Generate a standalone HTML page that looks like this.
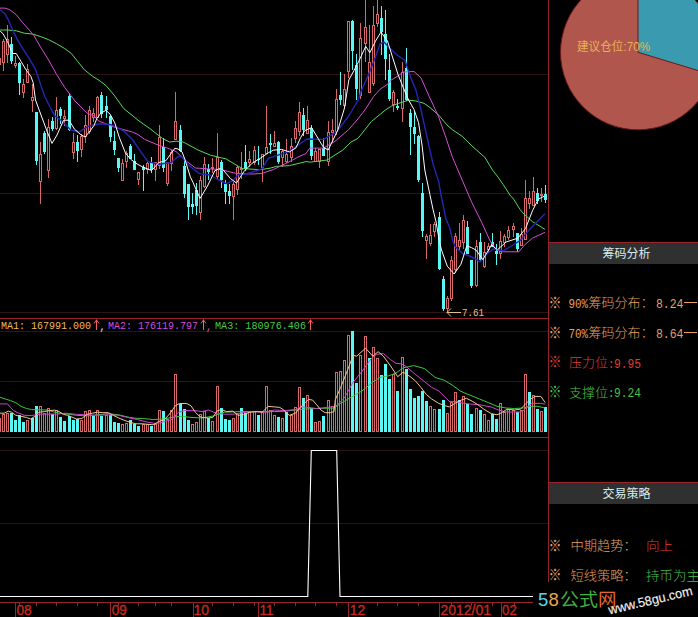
<!DOCTYPE html>
<html><head><meta charset="utf-8"><title>chart</title>
<style>html,body{margin:0;padding:0;background:#000;}body{width:698px;height:617px;overflow:hidden;position:relative;}</style>
</head><body>
<svg width="698" height="617" viewBox="0 0 698 617" style="position:absolute;left:0;top:0"><rect x="0" y="0" width="698" height="617" fill="#000"/><g shape-rendering="crispEdges"><rect x="0" y="74" width="548" height="1" fill="#2e1414"/><rect x="0" y="193" width="548" height="1" fill="#2e1414"/><rect x="0" y="312" width="548" height="1" fill="#2e1414"/><rect x="0" y="331" width="548" height="1" fill="#2e1414"/><rect x="0" y="381" width="548" height="1" fill="#2e1414"/><rect x="0" y="450" width="548" height="1" fill="#2e1414"/><rect x="0" y="523" width="548" height="1" fill="#2e1414"/></g><g shape-rendering="crispEdges"><rect x="-1" y="56" width="1" height="2" fill="#d86868"/><rect x="-1" y="65" width="1" height="1" fill="#d86868"/><rect x="-1.5" y="58.5" width="2" height="6" fill="#000" stroke="#d86868" stroke-width="1"/><rect x="3" y="39" width="1" height="2" fill="#d86868"/><rect x="3" y="63" width="1" height="8" fill="#d86868"/><rect x="2.5" y="41.5" width="2" height="21" fill="#000" stroke="#d86868" stroke-width="1"/><rect x="7" y="25" width="1" height="14" fill="#d86868"/><rect x="7" y="55" width="1" height="8" fill="#d86868"/><rect x="6.5" y="39.5" width="2" height="15" fill="#000" stroke="#d86868" stroke-width="1"/><rect x="11" y="37" width="1" height="27" fill="#5af8f4"/><rect x="10" y="44" width="3" height="17" fill="#5af8f4"/><rect x="15" y="56" width="1" height="7" fill="#d86868"/><rect x="15" y="66" width="1" height="2" fill="#d86868"/><rect x="14.5" y="63.5" width="2" height="2" fill="#000" stroke="#d86868" stroke-width="1"/><rect x="19" y="62" width="1" height="33" fill="#5af8f4"/><rect x="18" y="63" width="3" height="20" fill="#5af8f4"/><rect x="23" y="79" width="1" height="5" fill="#d86868"/><rect x="23" y="93" width="1" height="5" fill="#d86868"/><rect x="22.5" y="84.5" width="2" height="8" fill="#000" stroke="#d86868" stroke-width="1"/><rect x="27" y="64" width="1" height="5" fill="#d86868"/><rect x="26.5" y="69.5" width="2" height="13" fill="#000" stroke="#d86868" stroke-width="1"/><rect x="32" y="84" width="1" height="13" fill="#d86868"/><rect x="32" y="101" width="1" height="11" fill="#d86868"/><rect x="31.5" y="97.5" width="2" height="3" fill="#000" stroke="#d86868" stroke-width="1"/><rect x="36" y="112" width="1" height="53" fill="#5af8f4"/><rect x="35" y="112" width="3" height="49" fill="#5af8f4"/><rect x="40" y="142" width="1" height="12" fill="#d86868"/><rect x="40" y="182" width="1" height="22" fill="#d86868"/><rect x="39.5" y="154.5" width="2" height="27" fill="#000" stroke="#d86868" stroke-width="1"/><rect x="44" y="131" width="1" height="23" fill="#5af8f4"/><rect x="43" y="133" width="3" height="19" fill="#5af8f4"/><rect x="48" y="119" width="1" height="8" fill="#d86868"/><rect x="48" y="171" width="1" height="7" fill="#d86868"/><rect x="47.5" y="127.5" width="2" height="43" fill="#000" stroke="#d86868" stroke-width="1"/><rect x="52" y="117" width="1" height="14" fill="#5af8f4"/><rect x="51" y="121" width="3" height="8" fill="#5af8f4"/><rect x="56" y="97" width="1" height="13" fill="#d86868"/><rect x="56" y="129" width="1" height="1" fill="#d86868"/><rect x="55.5" y="110.5" width="2" height="18" fill="#000" stroke="#d86868" stroke-width="1"/><rect x="60" y="107" width="1" height="17" fill="#5af8f4"/><rect x="59" y="109" width="3" height="7" fill="#5af8f4"/><rect x="64" y="110" width="1" height="6" fill="#d86868"/><rect x="64" y="119" width="1" height="7" fill="#d86868"/><rect x="63.5" y="116.5" width="2" height="2" fill="#000" stroke="#d86868" stroke-width="1"/><rect x="69" y="93" width="1" height="38" fill="#5af8f4"/><rect x="68" y="96" width="3" height="34" fill="#5af8f4"/><rect x="73" y="133" width="1" height="9" fill="#d86868"/><rect x="73" y="153" width="1" height="6" fill="#d86868"/><rect x="72.5" y="142.5" width="2" height="10" fill="#000" stroke="#d86868" stroke-width="1"/><rect x="77" y="135" width="1" height="27" fill="#5af8f4"/><rect x="76" y="142" width="3" height="9" fill="#5af8f4"/><rect x="81" y="134" width="1" height="2" fill="#d86868"/><rect x="81" y="150" width="1" height="7" fill="#d86868"/><rect x="80.5" y="136.5" width="2" height="13" fill="#000" stroke="#d86868" stroke-width="1"/><rect x="85" y="115" width="1" height="10" fill="#d86868"/><rect x="85" y="137" width="1" height="6" fill="#d86868"/><rect x="84.5" y="125.5" width="2" height="11" fill="#000" stroke="#d86868" stroke-width="1"/><rect x="89" y="106" width="1" height="4" fill="#d86868"/><rect x="89" y="132" width="1" height="2" fill="#d86868"/><rect x="88.5" y="110.5" width="2" height="21" fill="#000" stroke="#d86868" stroke-width="1"/><rect x="93" y="108" width="1" height="5" fill="#d86868"/><rect x="93" y="118" width="1" height="4" fill="#d86868"/><rect x="92.5" y="113.5" width="2" height="4" fill="#000" stroke="#d86868" stroke-width="1"/><rect x="97" y="96" width="1" height="1" fill="#d86868"/><rect x="96.5" y="97.5" width="2" height="20" fill="#000" stroke="#d86868" stroke-width="1"/><rect x="101" y="92" width="1" height="26" fill="#5af8f4"/><rect x="100" y="95" width="3" height="19" fill="#5af8f4"/><rect x="106" y="96" width="1" height="22" fill="#5af8f4"/><rect x="105" y="106" width="3" height="4" fill="#5af8f4"/><rect x="110" y="115" width="1" height="27" fill="#5af8f4"/><rect x="109" y="116" width="3" height="21" fill="#5af8f4"/><rect x="114" y="131" width="1" height="24" fill="#5af8f4"/><rect x="113" y="141" width="3" height="9" fill="#5af8f4"/><rect x="118" y="158" width="1" height="14" fill="#5af8f4"/><rect x="117" y="158" width="3" height="10" fill="#5af8f4"/><rect x="122" y="159" width="1" height="4" fill="#d86868"/><rect x="121.5" y="163.5" width="2" height="17" fill="#000" stroke="#d86868" stroke-width="1"/><rect x="126" y="151" width="1" height="2" fill="#d86868"/><rect x="126" y="162" width="1" height="6" fill="#d86868"/><rect x="125.5" y="153.5" width="2" height="8" fill="#000" stroke="#d86868" stroke-width="1"/><rect x="130" y="144" width="1" height="15" fill="#5af8f4"/><rect x="129" y="146" width="3" height="13" fill="#5af8f4"/><rect x="134" y="154" width="1" height="16" fill="#5af8f4"/><rect x="133" y="161" width="3" height="9" fill="#5af8f4"/><rect x="138" y="180" width="1" height="5" fill="#d86868"/><rect x="137.5" y="172.5" width="2" height="7" fill="#000" stroke="#d86868" stroke-width="1"/><rect x="143" y="165" width="1" height="26" fill="#5af8f4"/><rect x="142" y="167" width="3" height="3" fill="#5af8f4"/><rect x="147" y="162" width="1" height="1" fill="#d86868"/><rect x="147" y="170" width="1" height="4" fill="#d86868"/><rect x="146.5" y="163.5" width="2" height="6" fill="#000" stroke="#d86868" stroke-width="1"/><rect x="151" y="157" width="1" height="16" fill="#5af8f4"/><rect x="150" y="163" width="3" height="7" fill="#5af8f4"/><rect x="155" y="170" width="1" height="11" fill="#d86868"/><rect x="154.5" y="162.5" width="2" height="7" fill="#000" stroke="#d86868" stroke-width="1"/><rect x="159" y="125" width="1" height="12" fill="#d86868"/><rect x="159" y="166" width="1" height="3" fill="#d86868"/><rect x="158.5" y="137.5" width="2" height="28" fill="#000" stroke="#d86868" stroke-width="1"/><rect x="163" y="138" width="1" height="34" fill="#5af8f4"/><rect x="162" y="147" width="3" height="21" fill="#5af8f4"/><rect x="167" y="184" width="1" height="2" fill="#d86868"/><rect x="166.5" y="162.5" width="2" height="21" fill="#000" stroke="#d86868" stroke-width="1"/><rect x="171" y="150" width="1" height="2" fill="#d86868"/><rect x="171" y="164" width="1" height="7" fill="#d86868"/><rect x="170.5" y="152.5" width="2" height="11" fill="#000" stroke="#d86868" stroke-width="1"/><rect x="175" y="92" width="1" height="29" fill="#d86868"/><rect x="174.5" y="121.5" width="2" height="18" fill="#000" stroke="#d86868" stroke-width="1"/><rect x="180" y="125" width="1" height="27" fill="#5af8f4"/><rect x="179" y="130" width="3" height="21" fill="#5af8f4"/><rect x="184" y="159" width="1" height="39" fill="#5af8f4"/><rect x="183" y="166" width="3" height="28" fill="#5af8f4"/><rect x="188" y="184" width="1" height="36" fill="#5af8f4"/><rect x="187" y="184" width="3" height="23" fill="#5af8f4"/><rect x="192" y="193" width="1" height="21" fill="#5af8f4"/><rect x="191" y="204" width="3" height="3" fill="#5af8f4"/><rect x="196" y="183" width="1" height="32" fill="#5af8f4"/><rect x="195" y="190" width="3" height="16" fill="#5af8f4"/><rect x="200" y="176" width="1" height="4" fill="#d86868"/><rect x="200" y="213" width="1" height="7" fill="#d86868"/><rect x="199.5" y="180.5" width="2" height="32" fill="#000" stroke="#d86868" stroke-width="1"/><rect x="204" y="157" width="1" height="7" fill="#d86868"/><rect x="204" y="187" width="1" height="1" fill="#d86868"/><rect x="203.5" y="164.5" width="2" height="22" fill="#000" stroke="#d86868" stroke-width="1"/><rect x="208" y="164" width="1" height="16" fill="#5af8f4"/><rect x="207" y="169" width="3" height="3" fill="#5af8f4"/><rect x="212" y="158" width="1" height="9" fill="#d86868"/><rect x="212" y="169" width="1" height="4" fill="#d86868"/><rect x="211" y="167" width="3" height="2" fill="#d86868"/><rect x="217" y="133" width="1" height="24" fill="#d86868"/><rect x="217" y="177" width="1" height="2" fill="#d86868"/><rect x="216.5" y="157.5" width="2" height="19" fill="#000" stroke="#d86868" stroke-width="1"/><rect x="221" y="160" width="1" height="28" fill="#5af8f4"/><rect x="220" y="162" width="3" height="18" fill="#5af8f4"/><rect x="225" y="180" width="1" height="24" fill="#5af8f4"/><rect x="224" y="184" width="3" height="8" fill="#5af8f4"/><rect x="229" y="184" width="1" height="20" fill="#5af8f4"/><rect x="228" y="191" width="3" height="5" fill="#5af8f4"/><rect x="233" y="182" width="1" height="2" fill="#d86868"/><rect x="233" y="197" width="1" height="23" fill="#d86868"/><rect x="232.5" y="184.5" width="2" height="12" fill="#000" stroke="#d86868" stroke-width="1"/><rect x="237" y="166" width="1" height="1" fill="#d86868"/><rect x="237" y="190" width="1" height="5" fill="#d86868"/><rect x="236.5" y="167.5" width="2" height="22" fill="#000" stroke="#d86868" stroke-width="1"/><rect x="241" y="152" width="1" height="16" fill="#d86868"/><rect x="241" y="170" width="1" height="9" fill="#d86868"/><rect x="240" y="168" width="3" height="2" fill="#d86868"/><rect x="245" y="145" width="1" height="26" fill="#5af8f4"/><rect x="244" y="162" width="3" height="7" fill="#5af8f4"/><rect x="249" y="151" width="1" height="8" fill="#d86868"/><rect x="249" y="163" width="1" height="4" fill="#d86868"/><rect x="248.5" y="159.5" width="2" height="3" fill="#000" stroke="#d86868" stroke-width="1"/><rect x="254" y="146" width="1" height="4" fill="#d86868"/><rect x="254" y="163" width="1" height="2" fill="#d86868"/><rect x="253.5" y="150.5" width="2" height="12" fill="#000" stroke="#d86868" stroke-width="1"/><rect x="258" y="146" width="1" height="19" fill="#5af8f4"/><rect x="257" y="159" width="3" height="1" fill="#5af8f4"/><rect x="262" y="168" width="1" height="14" fill="#d86868"/><rect x="261.5" y="154.5" width="2" height="13" fill="#000" stroke="#d86868" stroke-width="1"/><rect x="266" y="106" width="1" height="41" fill="#d86868"/><rect x="265.5" y="147.5" width="2" height="6" fill="#000" stroke="#d86868" stroke-width="1"/><rect x="270" y="134" width="1" height="20" fill="#5af8f4"/><rect x="269" y="143" width="3" height="2" fill="#5af8f4"/><rect x="274" y="131" width="1" height="12" fill="#d86868"/><rect x="273.5" y="143.5" width="2" height="3" fill="#000" stroke="#d86868" stroke-width="1"/><rect x="278" y="141" width="1" height="23" fill="#5af8f4"/><rect x="277" y="142" width="3" height="20" fill="#5af8f4"/><rect x="282" y="149" width="1" height="2" fill="#d86868"/><rect x="282" y="158" width="1" height="9" fill="#d86868"/><rect x="281.5" y="151.5" width="2" height="6" fill="#000" stroke="#d86868" stroke-width="1"/><rect x="286" y="139" width="1" height="15" fill="#d86868"/><rect x="286" y="162" width="1" height="1" fill="#d86868"/><rect x="285.5" y="154.5" width="2" height="7" fill="#000" stroke="#d86868" stroke-width="1"/><rect x="291" y="138" width="1" height="8" fill="#d86868"/><rect x="291" y="158" width="1" height="4" fill="#d86868"/><rect x="290.5" y="146.5" width="2" height="11" fill="#000" stroke="#d86868" stroke-width="1"/><rect x="295" y="121" width="1" height="7" fill="#d86868"/><rect x="295" y="139" width="1" height="4" fill="#d86868"/><rect x="294.5" y="128.5" width="2" height="10" fill="#000" stroke="#d86868" stroke-width="1"/><rect x="299" y="102" width="1" height="10" fill="#d86868"/><rect x="299" y="132" width="1" height="4" fill="#d86868"/><rect x="298.5" y="112.5" width="2" height="19" fill="#000" stroke="#d86868" stroke-width="1"/><rect x="303" y="108" width="1" height="28" fill="#5af8f4"/><rect x="302" y="115" width="3" height="15" fill="#5af8f4"/><rect x="307" y="106" width="1" height="14" fill="#d86868"/><rect x="306.5" y="120.5" width="2" height="13" fill="#000" stroke="#d86868" stroke-width="1"/><rect x="311" y="125" width="1" height="35" fill="#5af8f4"/><rect x="310" y="128" width="3" height="28" fill="#5af8f4"/><rect x="315" y="148" width="1" height="3" fill="#d86868"/><rect x="314.5" y="151.5" width="2" height="10" fill="#000" stroke="#d86868" stroke-width="1"/><rect x="319" y="162" width="1" height="6" fill="#d86868"/><rect x="318.5" y="149.5" width="2" height="12" fill="#000" stroke="#d86868" stroke-width="1"/><rect x="323" y="138" width="1" height="18" fill="#5af8f4"/><rect x="322" y="148" width="3" height="8" fill="#5af8f4"/><rect x="328" y="121" width="1" height="11" fill="#d86868"/><rect x="328" y="162" width="1" height="4" fill="#d86868"/><rect x="327.5" y="132.5" width="2" height="29" fill="#000" stroke="#d86868" stroke-width="1"/><rect x="332" y="119" width="1" height="11" fill="#d86868"/><rect x="332" y="133" width="1" height="10" fill="#d86868"/><rect x="331.5" y="130.5" width="2" height="2" fill="#000" stroke="#d86868" stroke-width="1"/><rect x="336" y="89" width="1" height="10" fill="#d86868"/><rect x="336" y="132" width="1" height="3" fill="#d86868"/><rect x="335.5" y="99.5" width="2" height="32" fill="#000" stroke="#d86868" stroke-width="1"/><rect x="340" y="72" width="1" height="33" fill="#5af8f4"/><rect x="339" y="95" width="3" height="5" fill="#5af8f4"/><rect x="344" y="74" width="1" height="15" fill="#d86868"/><rect x="344" y="106" width="1" height="1" fill="#d86868"/><rect x="343.5" y="89.5" width="2" height="16" fill="#000" stroke="#d86868" stroke-width="1"/><rect x="348" y="72" width="1" height="6" fill="#d86868"/><rect x="347.5" y="21.5" width="2" height="50" fill="#000" stroke="#d86868" stroke-width="1"/><rect x="352" y="20" width="1" height="50" fill="#5af8f4"/><rect x="351" y="21" width="3" height="30" fill="#5af8f4"/><rect x="356" y="54" width="1" height="46" fill="#5af8f4"/><rect x="355" y="65" width="3" height="24" fill="#5af8f4"/><rect x="360" y="23" width="1" height="15" fill="#d86868"/><rect x="360" y="96" width="1" height="3" fill="#d86868"/><rect x="359.5" y="38.5" width="2" height="57" fill="#000" stroke="#d86868" stroke-width="1"/><rect x="365" y="0" width="1" height="27" fill="#d86868"/><rect x="365" y="44" width="1" height="18" fill="#d86868"/><rect x="364.5" y="27.5" width="2" height="16" fill="#000" stroke="#d86868" stroke-width="1"/><rect x="369" y="25" width="1" height="37" fill="#d86868"/><rect x="368.5" y="62.5" width="2" height="30" fill="#000" stroke="#d86868" stroke-width="1"/><rect x="373" y="6" width="1" height="19" fill="#d86868"/><rect x="373" y="84" width="1" height="2" fill="#d86868"/><rect x="372.5" y="25.5" width="2" height="58" fill="#000" stroke="#d86868" stroke-width="1"/><rect x="377" y="0" width="1" height="14" fill="#d86868"/><rect x="377" y="24" width="1" height="3" fill="#d86868"/><rect x="376.5" y="14.5" width="2" height="9" fill="#000" stroke="#d86868" stroke-width="1"/><rect x="381" y="6" width="1" height="49" fill="#5af8f4"/><rect x="380" y="18" width="3" height="14" fill="#5af8f4"/><rect x="385" y="10" width="1" height="70" fill="#5af8f4"/><rect x="384" y="34" width="3" height="25" fill="#5af8f4"/><rect x="389" y="54" width="1" height="47" fill="#5af8f4"/><rect x="388" y="70" width="3" height="29" fill="#5af8f4"/><rect x="393" y="90" width="1" height="2" fill="#d86868"/><rect x="393" y="105" width="1" height="7" fill="#d86868"/><rect x="392.5" y="92.5" width="2" height="12" fill="#000" stroke="#d86868" stroke-width="1"/><rect x="397" y="99" width="1" height="11" fill="#5af8f4"/><rect x="396" y="106" width="3" height="2" fill="#5af8f4"/><rect x="402" y="62" width="1" height="10" fill="#d86868"/><rect x="402" y="109" width="1" height="13" fill="#d86868"/><rect x="401.5" y="72.5" width="2" height="36" fill="#000" stroke="#d86868" stroke-width="1"/><rect x="406" y="48" width="1" height="53" fill="#5af8f4"/><rect x="405" y="68" width="3" height="32" fill="#5af8f4"/><rect x="410" y="109" width="1" height="46" fill="#5af8f4"/><rect x="409" y="113" width="3" height="14" fill="#5af8f4"/><rect x="414" y="111" width="1" height="33" fill="#5af8f4"/><rect x="413" y="127" width="3" height="7" fill="#5af8f4"/><rect x="418" y="135" width="1" height="47" fill="#5af8f4"/><rect x="417" y="136" width="3" height="44" fill="#5af8f4"/><rect x="422" y="183" width="1" height="54" fill="#5af8f4"/><rect x="421" y="193" width="3" height="38" fill="#5af8f4"/><rect x="426" y="234" width="1" height="2" fill="#d86868"/><rect x="426" y="241" width="1" height="18" fill="#d86868"/><rect x="425.5" y="236.5" width="2" height="4" fill="#000" stroke="#d86868" stroke-width="1"/><rect x="430" y="224" width="1" height="11" fill="#d86868"/><rect x="430" y="244" width="1" height="2" fill="#d86868"/><rect x="429.5" y="235.5" width="2" height="8" fill="#000" stroke="#d86868" stroke-width="1"/><rect x="434" y="222" width="1" height="2" fill="#d86868"/><rect x="434" y="232" width="1" height="5" fill="#d86868"/><rect x="433.5" y="224.5" width="2" height="7" fill="#000" stroke="#d86868" stroke-width="1"/><rect x="439" y="212" width="1" height="58" fill="#5af8f4"/><rect x="438" y="217" width="3" height="52" fill="#5af8f4"/><rect x="443" y="276" width="1" height="35" fill="#5af8f4"/><rect x="442" y="279" width="3" height="30" fill="#5af8f4"/><rect x="447" y="296" width="1" height="2" fill="#d86868"/><rect x="447" y="309" width="1" height="4" fill="#d86868"/><rect x="446.5" y="298.5" width="2" height="10" fill="#000" stroke="#d86868" stroke-width="1"/><rect x="451" y="256" width="1" height="4" fill="#d86868"/><rect x="451" y="299" width="1" height="2" fill="#d86868"/><rect x="450.5" y="260.5" width="2" height="38" fill="#000" stroke="#d86868" stroke-width="1"/><rect x="455" y="233" width="1" height="3" fill="#d86868"/><rect x="455" y="270" width="1" height="3" fill="#d86868"/><rect x="454.5" y="236.5" width="2" height="33" fill="#000" stroke="#d86868" stroke-width="1"/><rect x="459" y="223" width="1" height="17" fill="#d86868"/><rect x="459" y="247" width="1" height="3" fill="#d86868"/><rect x="458.5" y="240.5" width="2" height="6" fill="#000" stroke="#d86868" stroke-width="1"/><rect x="463" y="215" width="1" height="5" fill="#d86868"/><rect x="463" y="243" width="1" height="6" fill="#d86868"/><rect x="462.5" y="220.5" width="2" height="22" fill="#000" stroke="#d86868" stroke-width="1"/><rect x="467" y="221" width="1" height="33" fill="#5af8f4"/><rect x="466" y="227" width="3" height="27" fill="#5af8f4"/><rect x="471" y="260" width="1" height="28" fill="#5af8f4"/><rect x="470" y="260" width="3" height="26" fill="#5af8f4"/><rect x="476" y="240" width="1" height="6" fill="#d86868"/><rect x="476" y="286" width="1" height="1" fill="#d86868"/><rect x="475.5" y="246.5" width="2" height="39" fill="#000" stroke="#d86868" stroke-width="1"/><rect x="480" y="233" width="1" height="29" fill="#5af8f4"/><rect x="479" y="242" width="3" height="18" fill="#5af8f4"/><rect x="484" y="242" width="1" height="10" fill="#d86868"/><rect x="484" y="267" width="1" height="1" fill="#d86868"/><rect x="483.5" y="252.5" width="2" height="14" fill="#000" stroke="#d86868" stroke-width="1"/><rect x="488" y="243" width="1" height="3" fill="#d86868"/><rect x="488" y="250" width="1" height="2" fill="#d86868"/><rect x="487.5" y="246.5" width="2" height="3" fill="#000" stroke="#d86868" stroke-width="1"/><rect x="492" y="233" width="1" height="14" fill="#5af8f4"/><rect x="491" y="242" width="3" height="5" fill="#5af8f4"/><rect x="496" y="244" width="1" height="21" fill="#5af8f4"/><rect x="495" y="251" width="3" height="3" fill="#5af8f4"/><rect x="500" y="231" width="1" height="10" fill="#d86868"/><rect x="500" y="254" width="1" height="5" fill="#d86868"/><rect x="499.5" y="241.5" width="2" height="12" fill="#000" stroke="#d86868" stroke-width="1"/><rect x="504" y="234" width="1" height="2" fill="#d86868"/><rect x="504" y="243" width="1" height="4" fill="#d86868"/><rect x="503.5" y="236.5" width="2" height="6" fill="#000" stroke="#d86868" stroke-width="1"/><rect x="508" y="226" width="1" height="4" fill="#d86868"/><rect x="508" y="238" width="1" height="2" fill="#d86868"/><rect x="507.5" y="230.5" width="2" height="7" fill="#000" stroke="#d86868" stroke-width="1"/><rect x="513" y="223" width="1" height="3" fill="#d86868"/><rect x="513" y="230" width="1" height="7" fill="#d86868"/><rect x="512.5" y="226.5" width="2" height="3" fill="#000" stroke="#d86868" stroke-width="1"/><rect x="517" y="233" width="1" height="19" fill="#5af8f4"/><rect x="516" y="233" width="3" height="16" fill="#5af8f4"/><rect x="521" y="228" width="1" height="6" fill="#d86868"/><rect x="520.5" y="234.5" width="2" height="11" fill="#000" stroke="#d86868" stroke-width="1"/><rect x="525" y="180" width="1" height="18" fill="#d86868"/><rect x="524.5" y="198.5" width="2" height="41" fill="#000" stroke="#d86868" stroke-width="1"/><rect x="529" y="191" width="1" height="7" fill="#d86868"/><rect x="529" y="204" width="1" height="5" fill="#d86868"/><rect x="528.5" y="198.5" width="2" height="5" fill="#000" stroke="#d86868" stroke-width="1"/><rect x="533" y="177" width="1" height="14" fill="#d86868"/><rect x="532.5" y="191.5" width="2" height="14" fill="#000" stroke="#d86868" stroke-width="1"/><rect x="537" y="188" width="1" height="16" fill="#5af8f4"/><rect x="536" y="193" width="3" height="8" fill="#5af8f4"/><rect x="541" y="188" width="1" height="6" fill="#d86868"/><rect x="541" y="196" width="1" height="6" fill="#d86868"/><rect x="540" y="194" width="3" height="2" fill="#d86868"/><rect x="545" y="185" width="1" height="18" fill="#5af8f4"/><rect x="544" y="194" width="3" height="6" fill="#5af8f4"/></g><polyline points="0.0,30.0 8.1,30.0 16.2,30.8 24.3,33.2 32.4,34.0 40.5,36.5 48.6,39.7 56.7,43.8 64.8,48.6 71.3,53.5 77.8,61.6 84.3,69.7 92.4,76.2 99.0,80.3 105.9,85.4 114.8,96.0 123.7,108.6 132.0,115.2 138.0,120.2 149.9,128.6 162.4,138.4 169.5,142.0 176.0,141.2 182.0,141.6 184.9,142.9 198.0,150.0 210.5,155.2 221.4,157.8 226.0,158.9 238.2,166.2 242.5,168.5 246.0,168.8 260.3,169.7 270.0,168.2 276.5,166.4 289.5,165.6 306.0,161.6 310.5,162.1 327.2,160.0 342.8,150.0 351.0,142.0 358.0,138.4 371.3,121.6 385.4,110.0 391.6,106.0 397.9,103.6 408.6,100.2 415.7,100.9 424.0,103.3 430.0,107.5 439.0,115.4 442.7,120.0 448.0,126.0 452.5,129.8 462.2,136.3 472.0,146.0 484.9,157.4 492.5,170.0 497.9,176.9 503.2,184.6 510.9,196.4 513.0,198.2 520.0,209.4 522.7,212.8 532.4,221.6 545.0,229.4" fill="none" stroke="#5ad85a" stroke-width="1" stroke-linejoin="round"/><polyline points="0.0,8.1 4.9,8.1 9.7,9.7 16.2,14.6 22.7,22.7 29.2,30.0 34.0,35.7 40.5,47.0 48.6,60.0 56.7,74.6 64.8,87.5 69.7,94.0 75.0,101.0 86.9,113.0 94.0,116.0 98.7,121.0 114.8,127.3 132.3,132.0 138.0,134.5 144.5,139.3 157.0,144.6 167.7,148.2 176.0,151.5 186.5,161.2 195.5,168.0 210.0,169.0 220.0,169.4 227.9,171.4 235.6,173.3 246.0,173.8 252.2,174.0 261.9,173.5 273.3,169.5 283.0,164.8 292.7,160.0 298.0,157.0 306.0,153.5 309.7,148.1 323.3,148.1 335.0,141.3 348.7,129.6 358.0,118.9 364.8,110.0 373.7,96.4 380.0,89.3 388.0,83.9 390.7,80.4 398.0,76.0 403.3,72.0 414.0,71.5 421.0,77.9 429.0,96.0 438.5,116.5 446.0,137.9 452.5,157.4 462.2,180.1 472.0,202.9 481.7,222.4 489.7,240.1 495.4,248.9 501.3,251.8 513.0,251.8 518.8,251.8 524.6,245.0 532.4,238.2 545.0,232.3" fill="none" stroke="#d84cd8" stroke-width="1" stroke-linejoin="round"/><polyline points="0.0,9.7 4.9,13.8 8.1,19.4 11.3,26.7 16.2,37.3 22.7,48.6 29.2,58.3 35.7,69.7 40.5,84.3 45.0,97.0 50.0,107.0 54.7,115.7 61.9,121.0 70.8,130.0 79.7,131.8 88.0,126.4 94.0,125.0 100.5,123.8 111.2,124.6 123.7,130.9 132.0,139.0 140.9,151.8 148.0,161.6 158.8,164.3 171.3,162.5 178.0,156.5 181.4,156.2 188.5,165.0 199.2,173.6 210.0,175.0 218.8,180.0 226.3,183.6 233.0,180.5 238.2,174.6 246.0,174.0 252.2,172.1 261.9,168.9 268.4,158.3 278.1,155.1 287.9,151.9 297.8,145.3 307.0,139.0 323.3,139.4 337.0,131.6 348.7,116.0 352.3,110.0 358.0,100.4 361.2,91.0 368.4,75.0 375.5,57.1 380.0,44.0 384.0,42.0 390.7,49.0 397.0,55.0 405.0,60.5 408.6,71.4 412.3,81.4 415.7,89.3 421.0,110.0 426.5,134.7 429.9,150.0 433.0,163.9 438.8,182.1 441.0,195.0 446.0,219.1 449.5,227.0 452.5,240.0 455.0,246.5 462.5,253.5 470.7,256.5 475.0,258.5 480.0,262.0 485.7,254.7 493.5,248.9 503.2,250.8 513.0,245.0 520.7,240.1 530.5,228.4 538.3,220.6 545.0,213.8" fill="none" stroke="#2626b4" stroke-width="1.4" stroke-linejoin="round"/><polyline points="0.0,30.8 3.2,34.0 7.3,41.3 11.3,50.2 13.0,53.5 16.2,53.5 21.1,61.6 25.9,69.7 30.8,76.2 33.2,82.7 35.5,100.0 41.0,115.0 47.3,132.0 52.0,143.4 57.0,135.0 63.6,120.2 69.0,120.2 74.4,129.1 80.0,134.0 85.0,137.1 90.0,131.0 94.0,125.5 96.9,118.4 101.0,113.0 105.9,110.4 110.0,114.0 114.8,122.9 119.2,137.1 125.5,153.2 130.9,159.5 138.0,164.5 142.7,167.0 151.6,170.5 158.8,162.5 165.9,160.7 174.9,148.2 178.0,149.0 182.0,151.8 185.0,159.7 190.3,176.8 193.0,182.4 200.0,198.4 207.5,186.0 214.9,170.7 218.8,168.8 222.7,169.4 230.4,178.5 236.5,183.0 244.1,171.3 252.2,163.2 260.3,158.3 268.4,152.7 273.3,150.2 281.4,149.4 289.5,151.9 296.0,147.8 300.8,137.3 304.8,130.6 311.6,127.7 323.3,147.1 328.2,150.0 338.0,129.6 344.5,108.0 348.8,80.0 354.0,70.5 359.4,60.0 365.7,46.4 369.8,52.7 375.5,41.1 380.9,32.1 387.5,41.0 392.5,57.1 397.9,74.1 403.2,87.5 408.6,100.0 414.0,109.5 418.5,122.5 422.0,145.0 424.8,170.0 429.9,194.6 433.0,209.4 436.1,222.0 439.5,241.8 441.5,250.0 447.3,266.2 454.1,274.0 460.9,264.3 466.8,245.8 471.6,247.7 476.0,250.0 482.8,259.6 491.5,245.0 497.4,249.8 506.1,242.0 517.8,238.2 525.6,228.4 532.4,210.9 538.3,199.2 544.0,196.3" fill="none" stroke="#ffffff" stroke-width="1" stroke-linejoin="round"/><g font-family="Liberation Mono, monospace" font-size="10" fill="#e8c080"><text x="462" y="316" textLength="22" lengthAdjust="spacingAndGlyphs">7.61</text></g><polyline points="451,308.5 447,312.5 451,316.5" fill="none" stroke="#e8c080" stroke-width="1"/><rect x="447" y="312" width="14" height="1" fill="#e8c080"/><g shape-rendering="crispEdges"><rect x="0" y="318" width="548" height="1" fill="#962428"/><rect x="0" y="437" width="548" height="1" fill="#962428"/><rect x="548" y="0" width="1" height="582" fill="#962428"/></g><g shape-rendering="crispEdges"><rect x="-1.5" y="418.5" width="2" height="13" fill="none" stroke="#d86868" stroke-width="1"/><rect x="2.5" y="414.5" width="2" height="17" fill="none" stroke="#d86868" stroke-width="1"/><rect x="6.5" y="413.5" width="2" height="18" fill="none" stroke="#d86868" stroke-width="1"/><rect x="10" y="413" width="3" height="19" fill="#5af8f4"/><rect x="14" y="420" width="3" height="12" fill="#5af8f4"/><rect x="18" y="415" width="3" height="17" fill="#5af8f4"/><rect x="22" y="422" width="3" height="10" fill="#5af8f4"/><rect x="26.5" y="420.5" width="2" height="11" fill="none" stroke="#d86868" stroke-width="1"/><rect x="31" y="418" width="3" height="14" fill="#5af8f4"/><rect x="35" y="406" width="3" height="26" fill="#5af8f4"/><rect x="39.5" y="406.5" width="2" height="25" fill="none" stroke="#d86868" stroke-width="1"/><rect x="43.5" y="413.5" width="2" height="18" fill="none" stroke="#d86868" stroke-width="1"/><rect x="47.5" y="408.5" width="2" height="23" fill="none" stroke="#d86868" stroke-width="1"/><rect x="51" y="414" width="3" height="18" fill="#5af8f4"/><rect x="55.5" y="410.5" width="2" height="21" fill="none" stroke="#d86868" stroke-width="1"/><rect x="59" y="417" width="3" height="15" fill="#5af8f4"/><rect x="63" y="421" width="3" height="11" fill="#5af8f4"/><rect x="68" y="416" width="3" height="16" fill="#5af8f4"/><rect x="72" y="420" width="3" height="12" fill="#5af8f4"/><rect x="76" y="419" width="3" height="13" fill="#5af8f4"/><rect x="80.5" y="420.5" width="2" height="11" fill="none" stroke="#d86868" stroke-width="1"/><rect x="84.5" y="411.5" width="2" height="20" fill="none" stroke="#d86868" stroke-width="1"/><rect x="88.5" y="410.5" width="2" height="21" fill="none" stroke="#d86868" stroke-width="1"/><rect x="92" y="416" width="3" height="16" fill="#5af8f4"/><rect x="96.5" y="410.5" width="2" height="21" fill="none" stroke="#d86868" stroke-width="1"/><rect x="100" y="416" width="3" height="16" fill="#5af8f4"/><rect x="105.5" y="415.5" width="2" height="16" fill="none" stroke="#d86868" stroke-width="1"/><rect x="109" y="415" width="3" height="17" fill="#5af8f4"/><rect x="113" y="422" width="3" height="10" fill="#5af8f4"/><rect x="117" y="423" width="3" height="9" fill="#5af8f4"/><rect x="121.5" y="424.5" width="2" height="7" fill="none" stroke="#d86868" stroke-width="1"/><rect x="125.5" y="423.5" width="2" height="8" fill="none" stroke="#d86868" stroke-width="1"/><rect x="129" y="420" width="3" height="12" fill="#5af8f4"/><rect x="133" y="424" width="3" height="8" fill="#5af8f4"/><rect x="137" y="426" width="3" height="6" fill="#5af8f4"/><rect x="142.5" y="424.5" width="2" height="7" fill="none" stroke="#d86868" stroke-width="1"/><rect x="146.5" y="424.5" width="2" height="7" fill="none" stroke="#d86868" stroke-width="1"/><rect x="150" y="426" width="3" height="6" fill="#5af8f4"/><rect x="154.5" y="424.5" width="2" height="7" fill="none" stroke="#d86868" stroke-width="1"/><rect x="158.5" y="410.5" width="2" height="21" fill="none" stroke="#d86868" stroke-width="1"/><rect x="162" y="411" width="3" height="21" fill="#5af8f4"/><rect x="166.5" y="419.5" width="2" height="12" fill="none" stroke="#d86868" stroke-width="1"/><rect x="170.5" y="410.5" width="2" height="21" fill="none" stroke="#d86868" stroke-width="1"/><rect x="174.5" y="374.5" width="2" height="57" fill="none" stroke="#d86868" stroke-width="1"/><rect x="179" y="404" width="3" height="28" fill="#5af8f4"/><rect x="183" y="409" width="3" height="23" fill="#5af8f4"/><rect x="187" y="420" width="3" height="12" fill="#5af8f4"/><rect x="191.5" y="424.5" width="2" height="7" fill="none" stroke="#d86868" stroke-width="1"/><rect x="195.5" y="422.5" width="2" height="9" fill="none" stroke="#d86868" stroke-width="1"/><rect x="199.5" y="414.5" width="2" height="17" fill="none" stroke="#d86868" stroke-width="1"/><rect x="203.5" y="411.5" width="2" height="20" fill="none" stroke="#d86868" stroke-width="1"/><rect x="207" y="418" width="3" height="14" fill="#5af8f4"/><rect x="211.5" y="421.5" width="2" height="10" fill="none" stroke="#d86868" stroke-width="1"/><rect x="216.5" y="386.5" width="2" height="45" fill="none" stroke="#d86868" stroke-width="1"/><rect x="220" y="408" width="3" height="24" fill="#5af8f4"/><rect x="224" y="419" width="3" height="13" fill="#5af8f4"/><rect x="228" y="420" width="3" height="12" fill="#5af8f4"/><rect x="232.5" y="418.5" width="2" height="13" fill="none" stroke="#d86868" stroke-width="1"/><rect x="236.5" y="413.5" width="2" height="18" fill="none" stroke="#d86868" stroke-width="1"/><rect x="240" y="408" width="3" height="24" fill="#5af8f4"/><rect x="244" y="413" width="3" height="19" fill="#5af8f4"/><rect x="248.5" y="412.5" width="2" height="19" fill="none" stroke="#d86868" stroke-width="1"/><rect x="253.5" y="411.5" width="2" height="20" fill="none" stroke="#d86868" stroke-width="1"/><rect x="257" y="415" width="3" height="17" fill="#5af8f4"/><rect x="261.5" y="412.5" width="2" height="19" fill="none" stroke="#d86868" stroke-width="1"/><rect x="265.5" y="386.5" width="2" height="45" fill="none" stroke="#d86868" stroke-width="1"/><rect x="269.5" y="410.5" width="2" height="21" fill="none" stroke="#d86868" stroke-width="1"/><rect x="273.5" y="415.5" width="2" height="16" fill="none" stroke="#d86868" stroke-width="1"/><rect x="277" y="417" width="3" height="15" fill="#5af8f4"/><rect x="281.5" y="418.5" width="2" height="13" fill="none" stroke="#d86868" stroke-width="1"/><rect x="285" y="412" width="3" height="20" fill="#5af8f4"/><rect x="290.5" y="415.5" width="2" height="16" fill="none" stroke="#d86868" stroke-width="1"/><rect x="294.5" y="407.5" width="2" height="24" fill="none" stroke="#d86868" stroke-width="1"/><rect x="298.5" y="387.5" width="2" height="44" fill="none" stroke="#d86868" stroke-width="1"/><rect x="302" y="398" width="3" height="34" fill="#5af8f4"/><rect x="306.5" y="395.5" width="2" height="36" fill="none" stroke="#d86868" stroke-width="1"/><rect x="310" y="408" width="3" height="24" fill="#5af8f4"/><rect x="314.5" y="422.5" width="2" height="9" fill="none" stroke="#d86868" stroke-width="1"/><rect x="318.5" y="421.5" width="2" height="10" fill="none" stroke="#d86868" stroke-width="1"/><rect x="322" y="416" width="3" height="16" fill="#5af8f4"/><rect x="327.5" y="400.5" width="2" height="31" fill="none" stroke="#d86868" stroke-width="1"/><rect x="331.5" y="406.5" width="2" height="25" fill="none" stroke="#d86868" stroke-width="1"/><rect x="335.5" y="372.5" width="2" height="59" fill="none" stroke="#d86868" stroke-width="1"/><rect x="339.5" y="371.5" width="2" height="60" fill="none" stroke="#d86868" stroke-width="1"/><rect x="343.5" y="360.5" width="2" height="71" fill="none" stroke="#d86868" stroke-width="1"/><rect x="347.5" y="335.5" width="2" height="96" fill="none" stroke="#d86868" stroke-width="1"/><rect x="351" y="331" width="3" height="101" fill="#5af8f4"/><rect x="355" y="383" width="3" height="49" fill="#5af8f4"/><rect x="359.5" y="355.5" width="2" height="76" fill="none" stroke="#d86868" stroke-width="1"/><rect x="364.5" y="336.5" width="2" height="95" fill="none" stroke="#d86868" stroke-width="1"/><rect x="368" y="358" width="3" height="74" fill="#5af8f4"/><rect x="372.5" y="347.5" width="2" height="84" fill="none" stroke="#d86868" stroke-width="1"/><rect x="376.5" y="358.5" width="2" height="73" fill="none" stroke="#d86868" stroke-width="1"/><rect x="380" y="375" width="3" height="57" fill="#5af8f4"/><rect x="384" y="364" width="3" height="68" fill="#5af8f4"/><rect x="388" y="379" width="3" height="53" fill="#5af8f4"/><rect x="392.5" y="374.5" width="2" height="57" fill="none" stroke="#d86868" stroke-width="1"/><rect x="396" y="391" width="3" height="41" fill="#5af8f4"/><rect x="401.5" y="357.5" width="2" height="74" fill="none" stroke="#d86868" stroke-width="1"/><rect x="405" y="369" width="3" height="63" fill="#5af8f4"/><rect x="409" y="389" width="3" height="43" fill="#5af8f4"/><rect x="413" y="398" width="3" height="34" fill="#5af8f4"/><rect x="417" y="396" width="3" height="36" fill="#5af8f4"/><rect x="421" y="391" width="3" height="41" fill="#5af8f4"/><rect x="425" y="401" width="3" height="31" fill="#5af8f4"/><rect x="429.5" y="406.5" width="2" height="25" fill="none" stroke="#d86868" stroke-width="1"/><rect x="433.5" y="409.5" width="2" height="22" fill="none" stroke="#d86868" stroke-width="1"/><rect x="438" y="409" width="3" height="23" fill="#5af8f4"/><rect x="442" y="400" width="3" height="32" fill="#5af8f4"/><rect x="446.5" y="413.5" width="2" height="18" fill="none" stroke="#d86868" stroke-width="1"/><rect x="450.5" y="402.5" width="2" height="29" fill="none" stroke="#d86868" stroke-width="1"/><rect x="454.5" y="392.5" width="2" height="39" fill="none" stroke="#d86868" stroke-width="1"/><rect x="458" y="400" width="3" height="32" fill="#5af8f4"/><rect x="462.5" y="396.5" width="2" height="35" fill="none" stroke="#d86868" stroke-width="1"/><rect x="466" y="404" width="3" height="28" fill="#5af8f4"/><rect x="470" y="414" width="3" height="18" fill="#5af8f4"/><rect x="475.5" y="408.5" width="2" height="23" fill="none" stroke="#d86868" stroke-width="1"/><rect x="479" y="410" width="3" height="22" fill="#5af8f4"/><rect x="483.5" y="414.5" width="2" height="17" fill="none" stroke="#d86868" stroke-width="1"/><rect x="487.5" y="420.5" width="2" height="11" fill="none" stroke="#d86868" stroke-width="1"/><rect x="491" y="414" width="3" height="18" fill="#5af8f4"/><rect x="495" y="419" width="3" height="13" fill="#5af8f4"/><rect x="499.5" y="403.5" width="2" height="28" fill="none" stroke="#d86868" stroke-width="1"/><rect x="503.5" y="412.5" width="2" height="19" fill="none" stroke="#d86868" stroke-width="1"/><rect x="507.5" y="409.5" width="2" height="22" fill="none" stroke="#d86868" stroke-width="1"/><rect x="512.5" y="410.5" width="2" height="21" fill="none" stroke="#d86868" stroke-width="1"/><rect x="516" y="412" width="3" height="20" fill="#5af8f4"/><rect x="520.5" y="410.5" width="2" height="21" fill="none" stroke="#d86868" stroke-width="1"/><rect x="524.5" y="374.5" width="2" height="57" fill="none" stroke="#d86868" stroke-width="1"/><rect x="528" y="392" width="3" height="40" fill="#5af8f4"/><rect x="532.5" y="395.5" width="2" height="36" fill="none" stroke="#d86868" stroke-width="1"/><rect x="536" y="409" width="3" height="23" fill="#5af8f4"/><rect x="540.5" y="411.5" width="2" height="20" fill="none" stroke="#d86868" stroke-width="1"/><rect x="544" y="407" width="3" height="25" fill="#5af8f4"/></g><polyline points="0.0,397.2 5.3,399.0 10.5,400.6 15.8,402.7 21.1,406.4 26.4,408.5 31.6,409.5 36.9,409.8 42.2,409.8 47.4,410.1 52.7,411.6 59.0,413.2 65.4,413.7 76.5,415.3 87.1,415.9 97.6,414.8 108.2,413.7 118.7,414.8 129.3,417.4 136.0,418.3 142.5,418.5 153.1,419.5 163.6,419.0 174.2,416.9 182.6,416.4 191.0,417.4 202.0,418.0 213.8,415.9 224.4,412.2 240.2,411.6 256.0,411.6 268.0,411.6 274.5,411.6 285.1,411.1 295.6,410.0 306.2,409.0 316.7,408.5 327.3,408.2 334.0,408.0 340.7,403.4 351.4,397.1 362.1,390.9 372.8,382.0 379.9,377.5 388.8,375.8 395.9,373.1 403.1,367.8 413.8,365.6 424.5,368.6 435.2,377.5 444.1,380.2 453.0,385.6 460.1,390.9 466.0,393.6 470.8,395.4 479.5,399.0 488.3,402.6 497.0,406.3 505.8,408.0 514.5,408.5 523.3,408.0 530.6,406.3 537.9,406.3 545.2,408.0" fill="none" stroke="#3cc83c" stroke-width="1" stroke-linejoin="round"/><polyline points="0.0,403.9 7.4,403.9 10.5,407.4 13.7,410.6 17.9,412.7 24.2,415.3 31.6,415.5 40.1,414.1 47.4,414.1 58.0,414.1 65.4,413.2 76.5,414.3 87.1,414.8 97.6,415.3 108.2,414.8 118.7,415.3 127.1,417.4 137.3,419.5 147.8,422.2 157.3,423.8 163.6,421.7 172.0,419.5 178.4,412.2 184.7,410.6 193.1,410.3 202.0,411.6 208.5,410.0 214.9,412.7 225.4,414.3 234.9,414.1 240.2,413.2 250.7,411.6 261.3,412.0 268.0,412.2 274.5,410.0 285.1,410.6 295.6,409.5 302.0,406.9 308.3,407.4 316.7,408.5 327.3,407.4 334.0,406.4 337.1,405.2 344.3,398.0 353.2,382.0 362.1,371.3 371.0,358.8 376.3,354.4 383.4,353.5 390.6,359.7 395.9,363.3 401.3,363.8 406.7,366.9 413.8,373.1 422.7,380.2 431.6,387.3 438.7,390.9 445.9,398.0 449.4,401.6 456.6,401.6 462.0,403.0 470.8,404.1 479.5,404.8 491.2,407.0 498.5,410.0 505.8,411.8 513.1,412.1 521.8,411.8 526.2,407.8 532.0,403.4 540.8,403.4 545.2,404.1" fill="none" stroke="#d040d0" stroke-width="1" stroke-linejoin="round"/><polyline points="0.0,413.2 4.2,413.2 8.4,411.1 11.6,412.2 15.8,415.3 21.1,416.4 26.4,417.4 30.6,419.0 34.8,416.4 39.0,412.2 44.3,411.6 49.5,410.6 54.8,410.1 59.0,411.6 63.3,414.3 67.5,415.3 70.2,416.4 76.5,419.0 81.8,418.5 87.1,414.3 92.4,413.2 97.6,412.2 102.9,412.7 108.2,412.7 113.4,415.3 118.7,418.0 125.0,420.6 131.4,422.7 136.0,423.8 142.5,423.8 153.1,424.8 158.4,421.7 164.7,419.5 171.0,412.2 175.2,405.8 179.4,403.5 186.8,403.5 191.0,405.8 195.3,412.2 199.5,416.4 202.0,417.4 208.5,418.0 212.8,417.4 217.0,411.1 221.2,409.5 226.5,411.6 232.8,411.1 238.0,415.3 243.3,414.8 249.7,412.2 257.0,411.6 262.3,412.2 268.0,406.4 274.5,406.9 279.8,407.4 283.0,409.5 289.3,415.3 295.6,413.2 298.8,409.0 303.0,404.8 308.3,399.5 312.5,400.0 316.7,404.8 320.9,410.0 325.1,412.7 330.4,412.7 334.0,411.6 335.3,399.8 340.7,387.3 347.8,369.5 353.2,355.3 356.7,356.2 365.6,348.2 372.8,356.2 378.1,351.7 383.4,356.2 390.6,366.0 397.7,376.7 403.1,372.2 410.3,376.7 415.6,381.1 420.9,387.3 426.3,394.5 431.6,398.9 438.7,403.4 445.9,406.0 449.4,406.9 454.8,403.4 461.9,399.8 466.4,398.3 472.2,401.2 478.0,404.8 483.9,409.2 491.2,413.6 497.0,414.8 501.4,412.9 507.2,409.2 514.5,410.0 520.4,409.2 524.8,404.8 530.6,399.0 535.0,396.4 540.8,396.4 545.2,402.6" fill="none" stroke="#f0c890" stroke-width="1" stroke-linejoin="round"/><g font-family="Liberation Mono, monospace" font-size="10"><text x="1" y="328.5" fill="#f0b860" textLength="90" lengthAdjust="spacingAndGlyphs">MA1: 167991.000</text><text x="108" y="328.5" fill="#d848d8" textLength="90" lengthAdjust="spacingAndGlyphs">MA2: 176119.797</text><text x="215" y="328.5" fill="#48c848" textLength="91" lengthAdjust="spacingAndGlyphs">MA3: 180976.406</text><text x="99.5" y="329.5" fill="#e8e8e8">,</text><text x="206" y="329.5" fill="#e060c0">,</text></g><g stroke="#f06464" stroke-width="1" fill="none"><line x1="96.5" y1="319.5" x2="96.5" y2="330"/><polyline points="94.0,323.5 96.5,320 99.0,323.5"/></g><g stroke="#f06464" stroke-width="1" fill="none"><line x1="203.5" y1="319.5" x2="203.5" y2="330"/><polyline points="201.0,323.5 203.5,320 206.0,323.5"/></g><g stroke="#f06464" stroke-width="1" fill="none"><line x1="310.5" y1="319.5" x2="310.5" y2="330"/><polyline points="308.0,323.5 310.5,320 313.0,323.5"/></g><polyline points="0,596.5 307.8,596.5 311.3,450.5 336.7,450.5 340,596.5 533,596.5" fill="none" stroke="#ffffff" stroke-width="1.1"/><g shape-rendering="crispEdges"><rect x="0" y="602" width="533" height="1" fill="#962428"/><rect x="19" y="602" width="1" height="4" fill="#962428"/><rect x="36" y="602" width="1" height="4" fill="#962428"/><rect x="56" y="602" width="1" height="4" fill="#962428"/><rect x="77" y="602" width="1" height="4" fill="#962428"/><rect x="97" y="602" width="1" height="4" fill="#962428"/><rect x="118" y="602" width="1" height="4" fill="#962428"/><rect x="138" y="602" width="1" height="4" fill="#962428"/><rect x="155" y="602" width="1" height="4" fill="#962428"/><rect x="171" y="602" width="1" height="4" fill="#962428"/><rect x="212" y="602" width="1" height="4" fill="#962428"/><rect x="233" y="602" width="1" height="4" fill="#962428"/><rect x="254" y="602" width="1" height="4" fill="#962428"/><rect x="274" y="602" width="1" height="4" fill="#962428"/><rect x="295" y="602" width="1" height="4" fill="#962428"/><rect x="315" y="602" width="1" height="4" fill="#962428"/><rect x="336" y="602" width="1" height="4" fill="#962428"/><rect x="377" y="602" width="1" height="4" fill="#962428"/><rect x="397" y="602" width="1" height="4" fill="#962428"/><rect x="418" y="602" width="1" height="4" fill="#962428"/><rect x="451" y="602" width="1" height="4" fill="#962428"/><rect x="471" y="602" width="1" height="4" fill="#962428"/><rect x="492" y="602" width="1" height="4" fill="#962428"/><rect x="514" y="602" width="1" height="4" fill="#962428"/><rect x="15" y="602" width="1" height="15" fill="#962428"/><rect x="110" y="602" width="1" height="15" fill="#962428"/><rect x="193" y="602" width="1" height="15" fill="#962428"/><rect x="258" y="602" width="1" height="15" fill="#962428"/><rect x="348" y="602" width="1" height="15" fill="#962428"/><rect x="439" y="602" width="1" height="15" fill="#962428"/><rect x="501" y="602" width="1" height="15" fill="#962428"/></g><g font-family="Liberation Sans, sans-serif" font-size="14" fill="#c8281e" stroke="#c8281e" stroke-width="0.35"><text x="16.4" y="615" textLength="15.3" lengthAdjust="spacingAndGlyphs">08</text><text x="111.7" y="615" textLength="15.0" lengthAdjust="spacingAndGlyphs">09</text><text x="193.5" y="615" textLength="15.6" lengthAdjust="spacingAndGlyphs">10</text><text x="259.5" y="615" textLength="14.0" lengthAdjust="spacingAndGlyphs">11</text><text x="349.7" y="615" textLength="15.4" lengthAdjust="spacingAndGlyphs">12</text><text x="440.5" y="615" textLength="50.4" lengthAdjust="spacingAndGlyphs">2012/01</text><text x="502.1" y="615" textLength="14.6" lengthAdjust="spacingAndGlyphs">02</text></g><circle cx="638" cy="52.3" r="77.5" fill="#b0564c" stroke="#6a1818" stroke-width="1"/><path d="M638,52.3 L638,-25.200000000000003 A77.5,77.5 0 0 1 712.15,74.83 Z" fill="#3a9ab0" stroke="#6a1818" stroke-width="1"/><text x="577" y="50.5" font-family="Liberation Sans, Noto Sans CJK SC, sans-serif" font-size="12" fill="#e8b058" textLength="73" lengthAdjust="spacingAndGlyphs">建议仓位:70%</text><rect x="549" y="242" width="149" height="1" fill="#962428" shape-rendering="crispEdges"/><rect x="549" y="243" width="149" height="21" fill="#303030" shape-rendering="crispEdges"/><text x="602.5" y="257.7" font-family="Noto Sans CJK SC, sans-serif" font-size="12" fill="#d8ecec" textLength="48" lengthAdjust="spacingAndGlyphs">筹码分析</text><rect x="549" y="482" width="149" height="1" fill="#962428" shape-rendering="crispEdges"/><rect x="549" y="483" width="149" height="21" fill="#303030" shape-rendering="crispEdges"/><text x="602.5" y="497.7" font-family="Noto Sans CJK SC, sans-serif" font-size="12" fill="#d8ecec" textLength="48" lengthAdjust="spacingAndGlyphs">交易策略</text><text x="548.5" y="307.7" font-family="Liberation Mono, Noto Sans CJK SC, monospace" font-weight="300" font-size="15" fill="#e8a060" textLength="13" lengthAdjust="spacingAndGlyphs">※</text><text x="568.5" y="308.0" font-family="Liberation Mono, Noto Sans CJK SC, monospace" font-weight="300" font-size="13" fill="#e8a060" textLength="19.5" lengthAdjust="spacingAndGlyphs">90%</text><text x="588.5" y="307.2" font-family="Liberation Mono, Noto Sans CJK SC, monospace" font-weight="300" font-size="13" fill="#e8a060" textLength="52" lengthAdjust="spacingAndGlyphs">筹码分布</text><text x="641" y="307.2" font-family="Liberation Mono, Noto Sans CJK SC, monospace" font-weight="300" font-size="13" fill="#e8a060" textLength="12" lengthAdjust="spacingAndGlyphs">：</text><text x="656" y="308.0" font-family="Liberation Mono, Noto Sans CJK SC, monospace" font-weight="300" font-size="13" fill="#e8a060" textLength="27.5" lengthAdjust="spacingAndGlyphs">8.24</text><text x="548.5" y="337.7" font-family="Liberation Mono, Noto Sans CJK SC, monospace" font-weight="300" font-size="15" fill="#e8a060" textLength="13" lengthAdjust="spacingAndGlyphs">※</text><text x="568.5" y="338.0" font-family="Liberation Mono, Noto Sans CJK SC, monospace" font-weight="300" font-size="13" fill="#e8a060" textLength="19.5" lengthAdjust="spacingAndGlyphs">70%</text><text x="588.5" y="337.2" font-family="Liberation Mono, Noto Sans CJK SC, monospace" font-weight="300" font-size="13" fill="#e8a060" textLength="52" lengthAdjust="spacingAndGlyphs">筹码分布</text><text x="641" y="337.2" font-family="Liberation Mono, Noto Sans CJK SC, monospace" font-weight="300" font-size="13" fill="#e8a060" textLength="12" lengthAdjust="spacingAndGlyphs">：</text><text x="656" y="338.0" font-family="Liberation Mono, Noto Sans CJK SC, monospace" font-weight="300" font-size="13" fill="#e8a060" textLength="27.5" lengthAdjust="spacingAndGlyphs">8.64</text><text x="548.5" y="367.4" font-family="Liberation Mono, Noto Sans CJK SC, monospace" font-weight="300" font-size="15" fill="#e03c30" textLength="13" lengthAdjust="spacingAndGlyphs">※</text><text x="569" y="366.9" font-family="Liberation Mono, Noto Sans CJK SC, monospace" font-weight="300" font-size="13" fill="#e03c30" textLength="39" lengthAdjust="spacingAndGlyphs">压力位</text><text x="608" y="367.7" font-family="Liberation Mono, Noto Sans CJK SC, monospace" font-weight="300" font-size="13" fill="#e03c30" textLength="6.5" lengthAdjust="spacingAndGlyphs">:</text><text x="614" y="367.7" font-family="Liberation Mono, Noto Sans CJK SC, monospace" font-weight="300" font-size="13" fill="#e03c30" textLength="27" lengthAdjust="spacingAndGlyphs">9.95</text><text x="548.5" y="397.0" font-family="Liberation Mono, Noto Sans CJK SC, monospace" font-weight="300" font-size="15" fill="#48c048" textLength="13" lengthAdjust="spacingAndGlyphs">※</text><text x="569" y="396.5" font-family="Liberation Mono, Noto Sans CJK SC, monospace" font-weight="300" font-size="13" fill="#48c048" textLength="39" lengthAdjust="spacingAndGlyphs">支撑位</text><text x="608" y="397.3" font-family="Liberation Mono, Noto Sans CJK SC, monospace" font-weight="300" font-size="13" fill="#48c048" textLength="6.5" lengthAdjust="spacingAndGlyphs">:</text><text x="614" y="397.3" font-family="Liberation Mono, Noto Sans CJK SC, monospace" font-weight="300" font-size="13" fill="#48c048" textLength="27" lengthAdjust="spacingAndGlyphs">9.24</text><text x="548.5" y="550.8" font-family="Liberation Mono, Noto Sans CJK SC, monospace" font-weight="300" font-size="15" fill="#e8a060" textLength="13" lengthAdjust="spacingAndGlyphs">※</text><text x="570.5" y="550.3" font-family="Liberation Mono, Noto Sans CJK SC, monospace" font-weight="300" font-size="13" fill="#e8a060" textLength="53" lengthAdjust="spacingAndGlyphs">中期趋势</text><text x="623.5" y="550.3" font-family="Liberation Mono, Noto Sans CJK SC, monospace" font-weight="300" font-size="13" fill="#e8a060" textLength="13" lengthAdjust="spacingAndGlyphs">：</text><text x="646" y="550.3" font-family="Liberation Mono, Noto Sans CJK SC, monospace" font-weight="300" font-size="13" fill="#e03c30" textLength="27" lengthAdjust="spacingAndGlyphs">向上</text><text x="548.5" y="580.0" font-family="Liberation Mono, Noto Sans CJK SC, monospace" font-weight="300" font-size="15" fill="#e8a060" textLength="13" lengthAdjust="spacingAndGlyphs">※</text><text x="570.5" y="579.5" font-family="Liberation Mono, Noto Sans CJK SC, monospace" font-weight="300" font-size="13" fill="#e8a060" textLength="53" lengthAdjust="spacingAndGlyphs">短线策略</text><text x="623.5" y="579.5" font-family="Liberation Mono, Noto Sans CJK SC, monospace" font-weight="300" font-size="13" fill="#e8a060" textLength="13" lengthAdjust="spacingAndGlyphs">：</text><text x="646" y="579.5" font-family="Liberation Mono, Noto Sans CJK SC, monospace" font-weight="300" font-size="13" fill="#48c048" textLength="54" lengthAdjust="spacingAndGlyphs">持币为主</text><rect x="684" y="302" width="13" height="1" fill="#e8a060"/><rect x="684" y="332" width="13" height="1" fill="#e8a060"/><rect x="533" y="582" width="165" height="35" fill="#000"/><g font-family="Liberation Sans, Noto Sans CJK SC, sans-serif" font-size="18.5"><text x="538" y="605.5" fill="#50d8f0">5</text><text x="548.5" y="605.5" fill="#f0a050">8</text><text x="560" y="605.5" fill="#40b040" textLength="38" lengthAdjust="spacingAndGlyphs">公式</text><text x="598" y="605.5" fill="#e06838">网</text></g><text x="0" y="0" transform="translate(609.5,614.5) rotate(-13.3)" font-family="Liberation Sans, sans-serif" font-size="13" fill="#f0f0f0" stroke="#f0f0f0" stroke-width="0.15" textLength="86" lengthAdjust="spacingAndGlyphs">www.58gu.com</text></svg>
</body></html>
